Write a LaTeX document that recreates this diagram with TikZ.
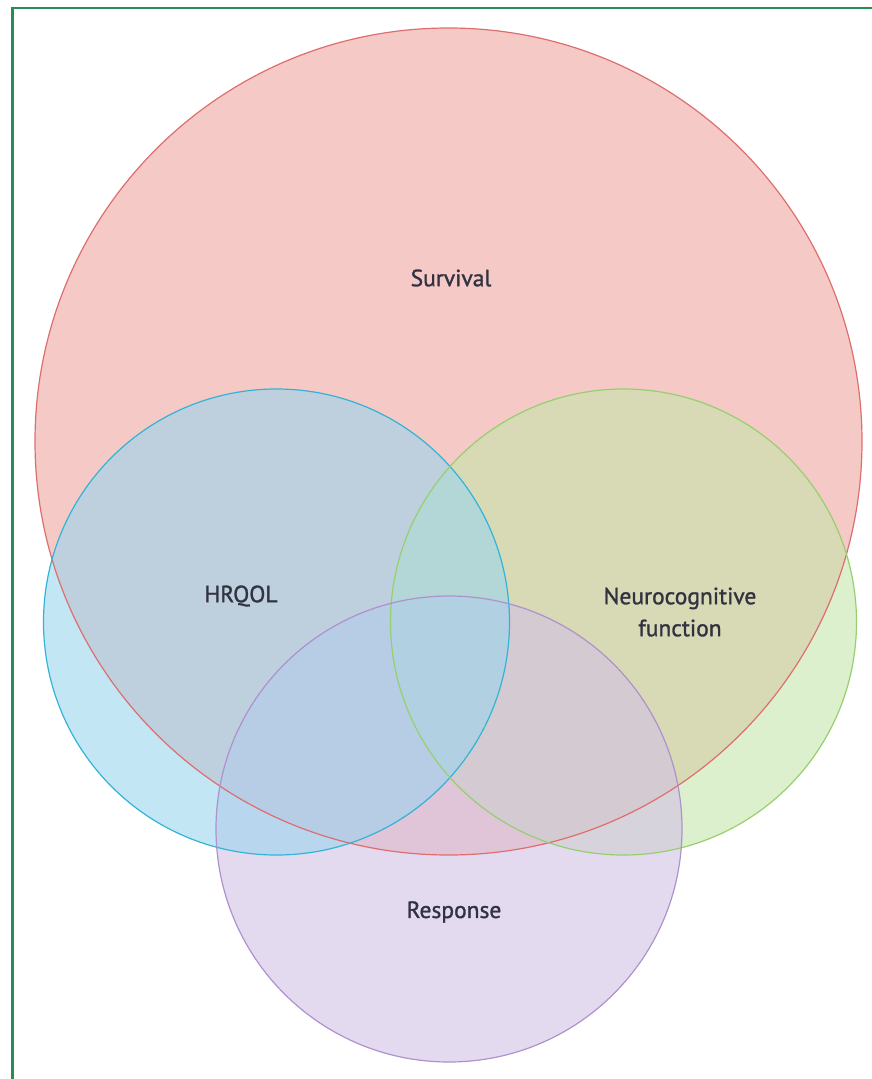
\documentclass[tikz,border=0pt]{standalone}
\usepackage{fontspec}
\setmainfont{PT Sans}
\newfontfamily\setfont{PT Sans}[FakeBold=1.2]
\usepackage{tikz}

\definecolor{survfill}{RGB}{230,120,110}
\definecolor{survedge}{RGB}{222,110,110}
\definecolor{hrqfill}{RGB}{155,213,238}
\definecolor{hrqedge}{RGB}{50,180,215}
\definecolor{neurofill}{RGB}{197,230,172}
\definecolor{neuroedge}{RGB}{150,208,110}
\definecolor{respfill}{RGB}{210,193,230}
\definecolor{respedge}{RGB}{175,145,205}
\definecolor{framegreen}{RGB}{40,140,85}
\definecolor{labeltext}{RGB}{50,50,65}

\tikzset{
	set/.style={circle, inner sep=0pt, fill opacity=0.6},
	rim/.style={line width=1.2pt},
	setname/.style={text=labeltext, font=\setfont\fontsize{23.5}{32}\selectfont, align=center}
}

\begin{document}
\begin{tikzpicture}[x=1pt, y=-1pt]
	\useasboundingbox (0,0) rectangle (872,1079);
	\clip (0,0) rectangle (872,1079);
	\draw[framegreen, line width=2.2pt] (12.5,8) rectangle (900,1100);

	% fills first, outlines on top
	\node[set, fill=survfill, fill opacity=0.4, minimum size=827pt] (1) at (448.5,441.5) {};
	\node[set, fill=neurofill, minimum size=466pt] (3) at (623.5,622) {};
	\node[set, fill=respfill, minimum size=466pt] (4) at (449,829) {};
	\node[set, fill=hrqfill, minimum size=466pt] (2) at (276.5,622) {};

	\draw[rim, survedge] (1.center) circle (413.5);
	\draw[rim, hrqedge] (2.center) circle (233);
	\draw[rim, neuroedge] (3.center) circle (233);
	\draw[rim, respedge] (4.center) circle (233);

	\node[setname] (survival) at (451,278) {Survival};
	\node[setname] (hrqol) at (241,596) {HRQOL};
	\node[setname] (neuro) at (680,612) {Neurocognitive\\function};
	\node[setname] (response) at (454,912) {Response};
\end{tikzpicture}
\end{document}
